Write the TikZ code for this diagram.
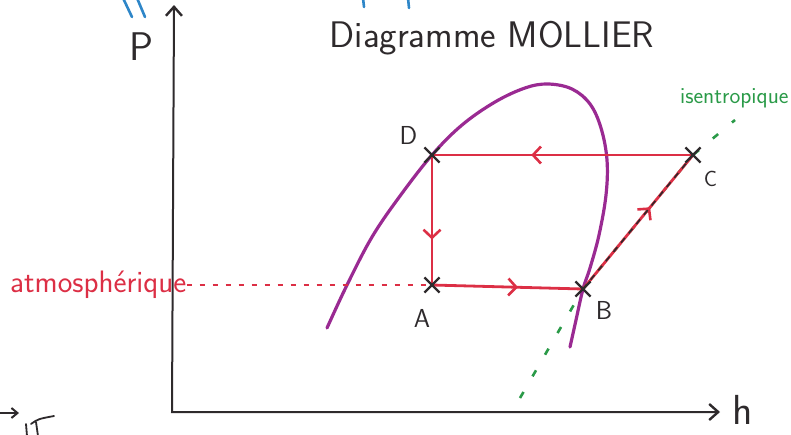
\documentclass[tikz,border=0pt]{standalone}
\usetikzlibrary{arrows.meta,positioning,decorations.markings,shapes.misc}
\definecolor{inkred}{HTML}{DC2F45}
\definecolor{inkpurple}{HTML}{9A2A92}
\definecolor{inkgreen}{HTML}{2A9A48}
\definecolor{inkblue}{HTML}{2E86C8}
\definecolor{inkgrey}{HTML}{2E2A2C}
\tikzset{
  axisline/.style={{Straight Barb[length=9pt,width=16pt,line width=2.4pt]}-{Straight Barb[length=9pt,width=16pt,line width=2.4pt]},
                   line width=2pt, color=inkgrey},
  cycline/.style={line width=2.8pt, color=inkred, line cap=round},
  midarr/.style={postaction={decorate}, decoration={markings, mark=at position #1 with
                 {\arrow{Straight Barb[length=8pt,width=17pt,line width=2.6pt]}}}},
  domeline/.style={line width=3.2pt, color=inkpurple, line cap=round},
  isoline/.style={line width=2.6pt, color=inkgreen, dash pattern=on 7pt off 18pt},
  stepdash/.style={line width=1.6pt, color=inkgrey, dash pattern=on 6pt off 6pt},
  atmline/.style={line width=2.2pt, color=inkred, dash pattern=on 5pt off 8pt},
  ptmark/.style={cross out, draw=inkgrey, line width=2.2pt, minimum size=13pt, inner sep=0pt},
  ptlabel/.style={text=inkgrey, font=\sffamily\fontsize{26}{26}\selectfont, inner sep=0pt},
  axlabel/.style={text=inkgrey, font=\sffamily\fontsize{40}{40}\selectfont, inner sep=0pt, anchor=base},
  scribble/.style={line width=2.6pt, line cap=round}}

\begin{document}
\begin{tikzpicture}[x=1pt, y=-1pt]
  \useasboundingbox (0,0) rectangle (791,434);
  % axes
  \coordinate (O) at (172,412);
  \coordinate (Ptop) at (174,5);
  \coordinate (hend) at (720,412);
  \draw[axisline] (Ptop) -- (O) -- (hend);
  \node[axlabel] (Plabel) at (141,60) {P};
  \node[axlabel, font=\sffamily\fontsize{42}{42}\selectfont] (hlabel) at (743,424) {h};
  \node[text=inkgrey, font=\sffamily\fontsize{37}{37}\selectfont, anchor=base, inner sep=0pt]
    (title) at (492,47) {Diagramme MOLLIER};

  % cycle points
  \coordinate (A) at (432,285);
  \coordinate (B) at (583,289);
  \coordinate (C) at (693,155);
  \coordinate (D) at (432,155);

  % saturation dome
  \draw[domeline] plot[smooth, tension=0.6] coordinates {(327,328) (347,285) (372,237) (400,196) (D)
    (462,125) (495,102) (525,88) (548,84) (572,89) (590,104) (601,128) (607,160) (606,195)
    (599,235) (590,268) (B) (576,320) (570,347)};

  % isentropic line
  \coordinate (iso0) at (520,398);
  \coordinate (iso1) at (735,120);
  \draw[isoline] (iso0) -- (B) -- (C) -- (iso1);
  \node[text=inkgreen, font=\sffamily\fontsize{23}{23}\selectfont, anchor=base west, inner sep=0pt]
    (isolabel) at (680,103) {isentropique};

  % atmospheric pressure
  \node[text=inkred, font=\sffamily\fontsize{31}{31}\selectfont, anchor=base west, inner sep=0pt]
    (atm) at (10,292) {atmosphérique};
  \draw[atmline] (atm.east |- A) -- (A);

  % cycle
  \draw[cycline, midarr=0.62] (C) -- (D);
  \draw[cycline, midarr=0.65] (D) -- (A);
  \draw[cycline, midarr=0.57] (A) -- (B);
  \draw[cycline, midarr=0.61] (B) -- (C);
  \draw[stepdash] (B) -- (C);

  \node[ptmark] (xA) at (A) {};
  \node[ptmark] (xB) at (B) {};
  \node[ptmark] (xC) at (C) {};
  \node[ptmark] (xD) at (D) {};
  \node[ptlabel, below=17pt of xA, xshift=-10pt] (lA) {A};
  \node[ptlabel, below right=5pt and 5pt of xB] (lB) {B};
  \node[ptlabel, below right=8pt and 3pt of xC, font=\sffamily\fontsize{22}{22}\selectfont] (lC) {C};
  \node[ptlabel, above left=3pt and 7pt of xD] (lD) {D};

  % stray strokes at the edges
  \draw[scribble, inkblue] (123,-2) -- (132,17);
  \draw[scribble, inkblue] (137,-2) -- (145,17);
  \draw[scribble, inkblue] (363,-2) -- (364,7);
  \draw[scribble, inkblue] (408,-2) -- (409,8);
  \draw[axisline, arrows={-Straight Barb[length=6pt,width=10pt,line width=2pt]}] (-4,413) -- (19,413);
  \draw[scribble, inkgrey, line width=1.8pt] (26,424) -- (27,436);
  \draw[scribble, inkgrey, line width=1.8pt] (31,424) .. controls (38,419) .. (54,416);
  \draw[scribble, inkgrey, line width=1.8pt] (36,422) -- (38,436);
\end{tikzpicture}
\end{document}
